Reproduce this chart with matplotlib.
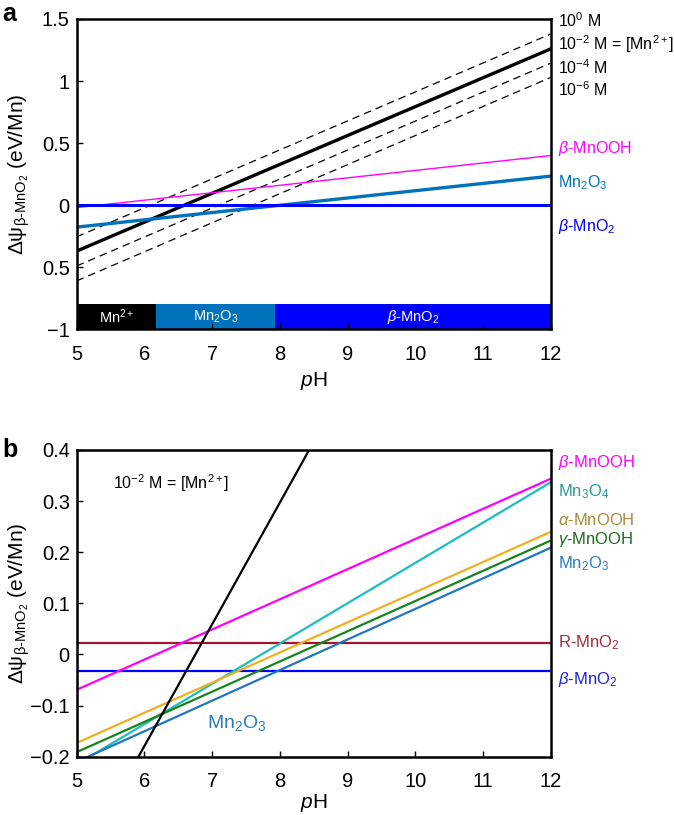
import numpy as np
import matplotlib
matplotlib.use('Agg')
import matplotlib.pyplot as plt

plt.rcParams['font.family'] = ['Liberation Sans', 'DejaVu Sans']
plt.rcParams['mathtext.fontset'] = 'custom'
plt.rcParams['mathtext.rm'] = 'Liberation Sans'
plt.rcParams['mathtext.it'] = 'Liberation Sans:italic'
plt.rcParams['mathtext.bf'] = 'Liberation Sans:bold'

ph = [5, 12]

# panel a (values at pH 5 and pH 12)
a_mn2_0 = [-0.255, 1.38]
a_mn2_2 = [-0.37, 1.26]
a_mn2_4 = [-0.49, 1.145]
a_mn2_6 = [-0.61, 1.03]
a_mnooh = [-0.02, 0.40]
a_mn2o3 = [-0.177, 0.234]
a_mno2 = [0.0, 0.0]
bar_edges = [5, 6.17, 7.93, 12]
bar_names = ['Mn$^{2+}$', 'Mn$_2$O$_3$', r'$\it{\beta}$-MnO$_2$']
bar_colors = ['black', '#0072BD', '#0000FF']

# panel b (values at pH 5 and pH 12)
b_mn2 = [-0.417, 1.25]
b_mnooh_beta = [-0.069, 0.344]
b_mn3o4 = [-0.215, 0.337]
b_mnooh_alpha = [-0.173, 0.240]
b_mnooh_gamma = [-0.191, 0.223]
b_mn2o3 = [-0.21, 0.209]
b_rmno2 = [0.022, 0.022]
b_mno2 = [-0.032, -0.032]

ylab = '\u0394\u03c8$_{\\text{\u03b2-MnO}_2}$ (eV/Mn)'

fig = plt.figure(figsize=(6.74, 8.15), dpi=100)
ax1 = fig.add_axes([0.1138, 0.596, 0.7037, 0.3807])
ax2 = fig.add_axes([0.1138, 0.0715, 0.7037, 0.3764])

for ax in (ax1, ax2):
    ax.set_xlim(5, 12)
    ax.set_xticks(range(5, 13))
    ax.tick_params(direction='in', length=4, width=1, labelsize=14.5, top=False, right=False)
    ax.tick_params(axis='x', pad=11)
    ax.tick_params(axis='y', pad=5)
    for s in ax.spines.values():
        s.set_linewidth(1.8)
    ax.set_ylabel(ylab, fontsize=15)
    ax.yaxis.set_label_coords(-0.095, 0.5)
ax1.set_xlabel('$p$H', fontsize=15, labelpad=5)
ax2.set_xlabel('$p$H', fontsize=15, labelpad=1)

# ---- a ----
for v in (a_mn2_0, a_mn2_4, a_mn2_6):
    ax1.plot(ph, v, color='black', lw=0.9, ls=(0, (6, 4)))
ax1.plot(ph, a_mn2_2, color='black', lw=2.4)
ax1.plot(ph, a_mnooh, color='#FF00FF', lw=1.0)
ax1.plot(ph, a_mn2o3, color='#0072BD', lw=2.4)
ax1.plot(ph, a_mno2, color='#0000FF', lw=2.2)
for i in range(3):
    ax1.barh(-0.9, bar_edges[i + 1] - bar_edges[i], left=bar_edges[i], height=0.2,
             color=bar_colors[i], edgecolor='none')
    ax1.text((bar_edges[i] + bar_edges[i + 1]) / 2, -0.9, bar_names[i], color='white',
             fontsize=10.5, ha='center', va='center')
ax1.set_ylim(-1, 1.5)
ax1.set_yticks([-1, -0.5, 0, 0.5, 1, 1.5])
ax1.set_yticklabels(['\u22121', '0.5', '0', '0.5', '1', '1.5'])

alabels = [('10$^0$ M', 1.49, 'black'),
           ('10$^{-2}$ M = [Mn$^{2+}$]', 1.30, 'black'),
           ('10$^{-4}$ M', 1.105, 'black'),
           ('10$^{-6}$ M', 0.927, 'black'),
           (r'$\it{\beta}$-MnOOH', 0.46, '#FF00FF'),
           ('Mn$_2$O$_3$', 0.18, '#0072BD'),
           (r'$\it{\beta}$-MnO$_2$', -0.17, '#0000FF')]
for t, y, c in alabels:
    ax1.text(1.015, y, t, color=c, fontsize=11.5, va='center', ha='left',
             transform=ax1.get_yaxis_transform())

# ---- b ----
ax2.plot(ph, b_rmno2, color='#A2142F', lw=1.6)
ax2.plot(ph, b_mno2, color='#0000FF', lw=1.6)
ax2.plot(ph, b_mnooh_beta, color='#FF00FF', lw=1.6)
ax2.plot(ph, b_mn3o4, color='#1CBDBD', lw=1.6)
ax2.plot(ph, b_mnooh_alpha, color='#EDB120', lw=1.6)
ax2.plot(ph, b_mnooh_gamma, color='#17861A', lw=1.6)
ax2.plot(ph, b_mn2o3, color='#1F77C0', lw=1.6)
ax2.plot(ph, b_mn2, color='black', lw=1.6)
ax2.set_ylim(-0.2, 0.4)
ax2.set_yticks([-0.2, -0.1, 0, 0.1, 0.2, 0.3, 0.4])
ax2.set_yticklabels(['\u22120.2', '\u22120.1', '0', '0.1', '0.2', '0.3', '0.4'])

blabels = [(r'$\it{\beta}$-MnOOH', 0.375, '#FF00FF'),
           ('Mn$_3$O$_4$', 0.318, '#2A9A9A'),
           (r'$\alpha$-MnOOH', 0.263, '#A8893A'),
           (r'$\gamma$-MnOOH', 0.225, '#1D6B1D'),
           ('Mn$_2$O$_3$', 0.178, '#2A7CC0'),
           ('R-MnO$_2$', 0.024, '#A03040'),
           (r'$\it{\beta}$-MnO$_2$', -0.049, '#2020E0')]
for t, y, c in blabels:
    ax2.text(1.015, y, t, color=c, fontsize=12, va='center', ha='left',
             transform=ax2.get_yaxis_transform())
ax2.text(5.54, 0.335, '10$^{-2}$ M = [Mn$^{2+}$]', fontsize=11.5, va='center', ha='left')
ax2.text(6.93, -0.135, 'Mn$_2$O$_3$', fontsize=14, color='#2A7CC0', va='center', ha='left')

fig.text(0.003, 0.998, 'a', fontsize=18, weight='bold', va='top')
fig.text(0.003, 0.462, 'b', fontsize=18, weight='bold', va='top')

plt.savefig('out.png', dpi=100)
